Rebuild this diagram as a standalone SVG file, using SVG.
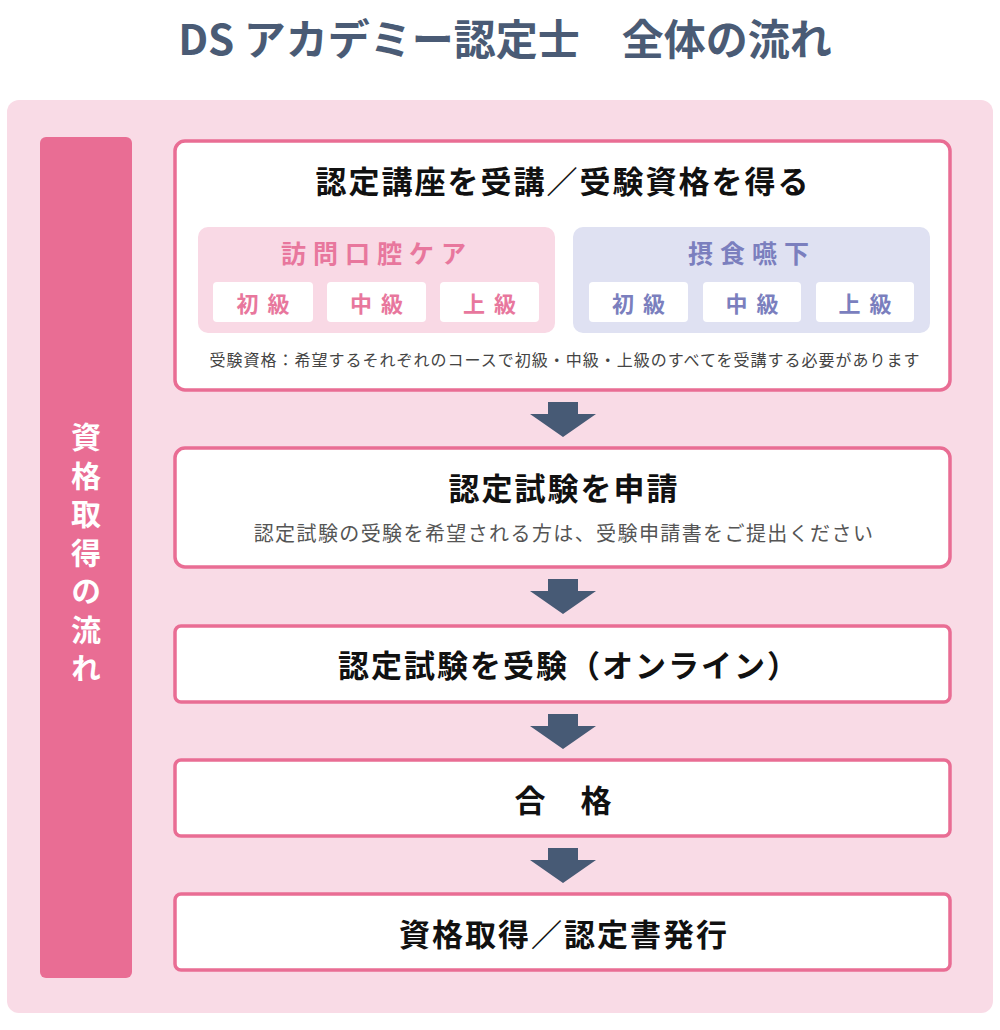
<svg xmlns="http://www.w3.org/2000/svg" width="1000" height="1030" viewBox="0 0 1000 1030">
<style>
  .jp { font-family: "Noto Sans CJK JP", "Noto Sans", sans-serif; }
  .step { fill: #ffffff; stroke: #e96d94; stroke-width: 3.5; }
  .stepT { font-family: "Noto Sans CJK JP", sans-serif; font-weight: 700; font-size: 31px; fill: #111111; text-anchor: middle; letter-spacing: 2px; }
  .sub { font-family: "Noto Sans CJK JP", sans-serif; font-size: 20px; fill: #555555; text-anchor: middle; letter-spacing: 1.4px; }
  .lvl { fill: #ffffff; }
  .lvlP { font-family: "Noto Sans CJK JP", sans-serif; font-weight: 700; font-size: 22px; fill: #e8779d; text-anchor: middle; letter-spacing: 9px; }
  .lvlB { font-family: "Noto Sans CJK JP", sans-serif; font-weight: 700; font-size: 22px; fill: #7b7fbe; text-anchor: middle; letter-spacing: 9px; }
  .arrow { fill: #475a75; }
</style>
<rect width="1000" height="1030" fill="#ffffff"/>
<text x="505" y="55" class="jp" font-size="42" font-weight="700" fill="#4a5b75" text-anchor="middle">DS アカデミー認定士　全体の流れ</text>

<rect id="background" x="7" y="100" width="986" height="913" rx="12" fill="#f9dbe6"/>

<g id="sidebar">
  <rect x="40" y="137" width="92" height="841" rx="6" fill="#e96d94"/>
  <text x="86" y="422" class="jp" font-size="30" font-weight="700" fill="#ffffff" writing-mode="vertical-rl" letter-spacing="8.5">資格取得の流れ</text>
</g>

<g id="step1">
  <rect class="step" x="175" y="141" width="775" height="249" rx="10"/>
  <text class="stepT" x="563" y="193">認定講座を受講／受験資格を得る</text>
  <g id="course-oral">
    <rect x="198" y="227" width="357" height="106" rx="10" fill="#f9d9e5"/>
    <text x="377" y="263" class="jp" font-size="25" font-weight="700" fill="#e8779d" text-anchor="middle" letter-spacing="7">訪問口腔ケア</text>
    <rect class="lvl" x="213" y="282" width="100" height="40" rx="4"/>
    <rect class="lvl" x="327" y="282" width="99" height="40" rx="4"/>
    <rect class="lvl" x="440" y="282" width="99" height="40" rx="4"/>
    <text class="lvlP" x="267.5" y="312">初級</text>
    <text class="lvlP" x="381" y="312">中級</text>
    <text class="lvlP" x="494" y="312">上級</text>
  </g>
  <g id="course-swallow">
    <rect x="573" y="227" width="357" height="106" rx="10" fill="#dfe1f2"/>
    <text x="752" y="263" class="jp" font-size="25" font-weight="700" fill="#7b7fbe" text-anchor="middle" letter-spacing="7">摂食嚥下</text>
    <rect class="lvl" x="589" y="282" width="99" height="40" rx="4"/>
    <rect class="lvl" x="703" y="282" width="98" height="40" rx="4"/>
    <rect class="lvl" x="816" y="282" width="98" height="40" rx="4"/>
    <text class="lvlB" x="643" y="312">初級</text>
    <text class="lvlB" x="756.5" y="312">中級</text>
    <text class="lvlB" x="869.5" y="312">上級</text>
  </g>
  <text x="565" y="366" class="jp" font-size="16" fill="#444444" text-anchor="middle" letter-spacing="1">受験資格：希望するそれぞれのコースで初級・中級・上級のすべてを受講する必要があります</text>
</g>

<g id="step2">
  <rect class="step" x="175" y="448" width="775" height="119" rx="10"/>
  <text class="stepT" x="564" y="500">認定試験を申請</text>
  <text class="sub" x="564" y="541">認定試験の受験を希望される方は、受験申請書をご提出ください</text>
</g>

<g id="step3">
  <rect class="step" x="175" y="626" width="775" height="76" rx="6"/>
  <text class="stepT" x="569" y="677">認定試験を受験（オンライン）</text>
</g>

<g id="step4">
  <rect class="step" x="175" y="760" width="775" height="76" rx="6"/>
  <text class="stepT" x="564" y="812">合　格</text>
</g>

<g id="step5">
  <rect class="step" x="175" y="894" width="775" height="76" rx="6"/>
  <text class="stepT" x="564" y="946">資格取得／認定書発行</text>
</g>

<g id="connectors">
  <polygon class="arrow" points="548,402 578,402 578,414 596,414 563,437 530,414 548,414"/>
  <polygon class="arrow" points="548,579 578,579 578,591 596,591 563,614 530,591 548,591"/>
  <polygon class="arrow" points="548,714 578,714 578,726 596,726 563,749 530,726 548,726"/>
  <polygon class="arrow" points="548,848 578,848 578,860 596,860 563,883 530,860 548,860"/>
</g>
</svg>
